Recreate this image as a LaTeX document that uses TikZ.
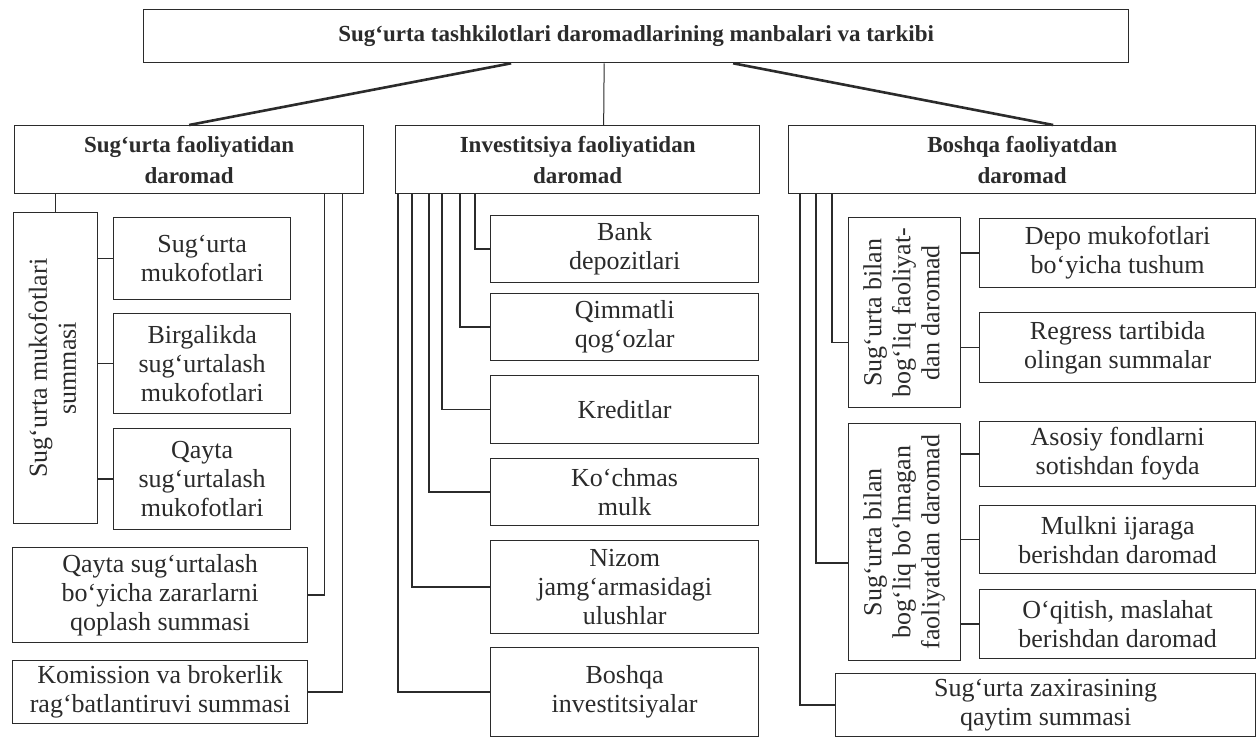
\documentclass[tikz,border=0pt]{standalone}
\usepackage{fontspec}
\setmainfont{Liberation Serif}

\definecolor{ink}{HTML}{2B2B2B}
\newcommand{\bodyfont}{\fontsize{26}{29}\selectfont}
\newcommand{\headfont}{\fontsize{23}{31}\selectfont\bfseries}
\newcommand{\vlines}[1]{\rotatebox{90}{\begin{tabular}{@{}c@{}}#1\end{tabular}}}

\tikzset{
  box/.style={draw=ink, line width=1.3pt, inner sep=0pt, align=center,
    anchor=north west, text=ink},
  sz/.style 2 args={minimum width=#1pt, minimum height=#2pt},
  wire/.style={draw=ink, line width=1.5pt},
}

\begin{document}
\begin{tikzpicture}[x=1pt, y=-1pt, font=\bodyfont]
  \useasboundingbox (0,0) rectangle (1256,738);
  \fill[white] (0,0) rectangle (1256,738);

  % title
  \node[box, sz={985}{53}, font=\headfont] (title) at (143,9)
    {Sug‘urta tashkilotlari daromadlarining manbalari va tarkibi};

  % three sources
  \node[box, sz={349}{68}, font=\headfont] (sugfaol) at (14,125) {Sug‘urta faoliyatidan\\daromad};
  \node[box, sz={364}{68}, font=\headfont] (invfaol) at (395,125) {Investitsiya faoliyatidan\\daromad};
  \node[box, sz={467}{68}, font=\headfont] (boshfaol) at (788,125) {Boshqa faoliyatdan\\daromad};

  \draw[wire, line width=2.6pt] ([xshift=-125pt]title.south) -- (sugfaol.north);
  \draw[wire, line width=1pt] ([xshift=-32pt]title.south) -- ([xshift=26pt]invfaol.north);
  \draw[wire, line width=2.6pt] ([xshift=97pt]title.south) -- ([xshift=31pt]boshfaol.north);

  % insurance activity
  \node[box, sz={84}{311}] (mukofsum) at (13,212) {\vlines{Sug‘urta mukofotlari\\summasi}};
  \node[box, sz={177}{82}] (mukof) at (113,217) {Sug‘urta\\mukofotlari};
  \node[box, sz={177}{100}] (birga) at (113,313) {Birgalikda\\sug‘urtalash\\mukofotlari};
  \node[box, sz={177}{101}] (qayta) at (113,428) {Qayta\\sug‘urtalash\\mukofotlari};
  \node[box, sz={295}{95}] (qoplash) at (12,547) {Qayta sug‘urtalash\\bo‘yicha zararlarni\\qoplash summasi};
  \node[box, sz={295}{63}] (komis) at (12,660) {Komission va brokerlik\\rag‘batlantiruvi summasi};

  \draw[wire] (mukofsum.north) -- (mukofsum.north |- sugfaol.south);
  \foreach \k in {mukof, birga, qayta}
    \draw[wire] (\k.west) -- (\k.west -| mukofsum.east);
  \draw[wire] ([xshift=-40pt]sugfaol.south east) |- (qoplash.east);
  \draw[wire] ([xshift=-22pt]sugfaol.south east) |- (komis.east);

  % investment activity
  \node[box, sz={268}{67}] (bank) at (490,215) {Bank\\depozitlari};
  \node[box, sz={268}{67}] (qimmat) at (490,293) {Qimmatli\\qog‘ozlar};
  \node[box, sz={268}{68}] (kredit) at (490,375) {Kreditlar};
  \node[box, sz={268}{67}] (kochmas) at (490,458) {Ko‘chmas\\mulk};
  \node[box, sz={268}{93}] (nizom) at (490,540) {Nizom\\jamg‘armasidagi\\ulushlar};
  \node[box, sz={268}{89}] (boshinv) at (490,647) {Boshqa\\investitsiyalar};

  \foreach \k/\dx in {bank/80, qimmat/65, kredit/47, kochmas/34, nizom/17, boshinv/3}
    \draw[wire] ([xshift=\dx pt]invfaol.south west) |- (\k.west);

  % other activity
  \node[box, sz={112}{190}] (bogliq) at (848,217) {\vlines{Sug‘urta bilan\\bog‘liq faoliyat-\\dan daromad}};
  \node[box, sz={112}{237}] (boglmas) at (848,423) {\vlines{Sug‘urta bilan\\bog‘liq bo‘lmagan\\faoliyatdan daromad}};
  \node[box, sz={276}{69}] (depo) at (979,218) {Depo mukofotlari\\bo‘yicha tushum};
  \node[box, sz={276}{70}] (regress) at (979,312) {Regress tartibida\\olingan summalar};
  \node[box, sz={276}{65}] (asosiy) at (979,421) {Asosiy fondlarni\\sotishdan foyda};
  \node[box, sz={276}{68}] (ijara) at (979,505) {Mulkni ijaraga\\berishdan daromad};
  \node[box, sz={276}{69}] (oqitish) at (979,589) {O‘qitish, maslahat\\berishdan daromad};
  \node[box, sz={420}{63}] (zaxira) at (835,673) {Sug‘urta zaxirasining\\qaytim summasi};

  \draw[wire] ([xshift=44pt]boshfaol.south west) |- ([yshift=-30pt]bogliq.west);
  \draw[wire] ([xshift=28pt]boshfaol.south west) |- ([yshift=-21pt]boglmas.west);
  \draw[wire] ([xshift=12pt]boshfaol.south west) |- (zaxira.west);
  \foreach \k in {depo, regress}
    \draw[wire] (\k.west) -- (\k.west -| bogliq.east);
  \foreach \k in {asosiy, ijara, oqitish}
    \draw[wire] (\k.west) -- (\k.west -| boglmas.east);
\end{tikzpicture}
\end{document}
